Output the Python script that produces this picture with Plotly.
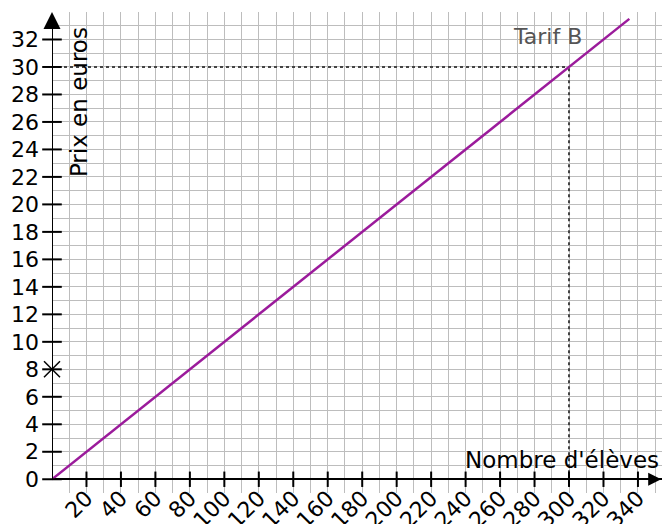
import plotly.graph_objects as go

# ---- data ----
students = [0, 335]          # Nombre d'élèves (line endpoints)
price = [0, 33.5]            # Prix en euros (Tarif B)
highlight_students = 300
highlight_price = 30
marked_price = 8

x_ticks = [20, 40, 60, 80, 100, 120, 140, 160, 180, 200, 220, 240, 260, 280, 300, 320, 340]
x_tick_labels = [str(v) for v in x_ticks]
y_ticks = [0, 2, 4, 6, 8, 10, 12, 14, 16, 18, 20, 22, 24, 26, 28, 30, 32]
y_tick_labels = [str(v) for v in y_ticks]

series_name = "Tarif B"
x_title = "Nombre d'élèves"
y_title = "Prix en euros"

FONT = "DejaVu Sans"
GRID = "#bdbdbd"

fig = go.Figure()

# dotted guide lines
fig.add_trace(go.Scatter(x=[0, highlight_students], y=[highlight_price, highlight_price],
                         mode="lines", line=dict(color="#444444", width=2, dash="dot"),
                         hoverinfo="skip", showlegend=False))
fig.add_trace(go.Scatter(x=[highlight_students, highlight_students], y=[0, highlight_price],
                         mode="lines", line=dict(color="#444444", width=2, dash="dot"),
                         hoverinfo="skip", showlegend=False))

# main line
fig.add_trace(go.Scatter(x=students, y=price, mode="lines",
                         line=dict(color="#9b1b9b", width=2.5),
                         name=series_name, showlegend=False))

# tick marks crossing the axes
fig.add_trace(go.Scatter(x=x_ticks, y=[0] * len(x_ticks), mode="markers",
                         marker=dict(symbol="line-ns", size=11,
                                     line=dict(color="black", width=2)),
                         hoverinfo="skip", showlegend=False, cliponaxis=False))
fig.add_trace(go.Scatter(x=[0] * len(y_ticks), y=y_ticks, mode="markers",
                         marker=dict(symbol="line-ew", size=14,
                                     line=dict(color="black", width=2)),
                         hoverinfo="skip", showlegend=False, cliponaxis=False))
# star mark at 8
fig.add_trace(go.Scatter(x=[0], y=[marked_price], mode="markers",
                         marker=dict(symbol="x-thin", size=16,
                                     line=dict(color="black", width=1.5)),
                         hoverinfo="skip", showlegend=False, cliponaxis=False))

# y axis line
fig.add_shape(type="line", xref="x", yref="y", x0=0, x1=0, y0=0, y1=33.5,
              line=dict(color="black", width=2))

# arrowheads
fig.add_trace(go.Scatter(x=[0], y=[34], mode="markers",
                         marker=dict(symbol="arrow-up", size=17, color="black",
                                     line=dict(width=0)),
                         hoverinfo="skip", showlegend=False, cliponaxis=False))
fig.add_trace(go.Scatter(x=[353.5], y=[0], mode="markers",
                         marker=dict(symbol="arrow-right", size=13, color="black",
                                     line=dict(width=0)),
                         hoverinfo="skip", showlegend=False, cliponaxis=False))

# texts
fig.add_annotation(x=287.4, y=32.2, xref="x", yref="y", text=series_name,
                   showarrow=False, font=dict(family=FONT, size=22, color="#555555"),
                   xanchor="center", yanchor="middle")
fig.add_annotation(x=296.0, y=1.37, xref="x", yref="y", text=x_title,
                   showarrow=False, font=dict(family=FONT, size=23, color="black"),
                   xanchor="center", yanchor="middle")
fig.add_annotation(x=15.8, y=27.46, xref="x", yref="y", text=y_title, textangle=-90,
                   showarrow=False, font=dict(family=FONT, size=23, color="black"),
                   xanchor="center", yanchor="middle")

fig.update_layout(
    width=662, height=516,
    margin=dict(l=44, r=0, t=4, b=31, autoexpand=False),
    paper_bgcolor="white", plot_bgcolor="white",
    font=dict(family=FONT, size=22, color="black"),
    showlegend=False,
)
fig.update_xaxes(
    range=[0, 358.6], tickmode="array", tickvals=x_ticks, ticktext=x_tick_labels,
    tickangle=-45, ticks="", showgrid=True, gridcolor=GRID, gridwidth=1.3,
    minor=dict(tick0=0, dtick=10, showgrid=True, gridcolor=GRID, gridwidth=1.3),
    zeroline=False, showline=False, ticklabelstandoff=-13, automargin=False,
    tickfont=dict(family=FONT, size=22),
)
fig.update_yaxes(
    range=[-1, 34], tickmode="array", tickvals=y_ticks, ticktext=y_tick_labels,
    ticks="", showgrid=True, gridcolor=GRID, gridwidth=1.3,
    minor=dict(tick0=0, dtick=1, showgrid=True, gridcolor=GRID, gridwidth=1.3),
    zeroline=True, zerolinecolor="black", zerolinewidth=2, showline=False,
    ticklabelstandoff=12, automargin=False, tickfont=dict(family=FONT, size=22),
)

fig.write_html("out.html")
